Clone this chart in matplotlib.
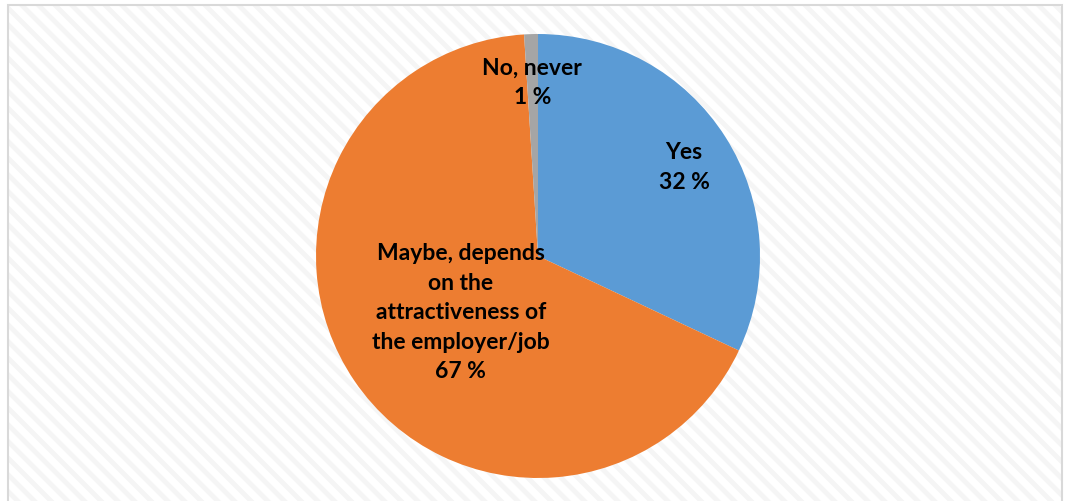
import numpy as np
import matplotlib
matplotlib.use("Agg")
import matplotlib.pyplot as plt
from matplotlib.patches import Rectangle

labels = ["Yes", "Maybe, depends\non the\nattractiveness of\nthe employer/job", "No, never"]
values = [32, 67, 1]
pct_text = ["32 %", "67 %", "1 %"]
colors = ["#5b9bd5", "#ed7d31", "#a5a5a5"]
label_dist = [0.78, 0.42, 0.80]

plt.rcParams['hatch.linewidth'] = 3.5
plt.rcParams['hatch.color'] = '#f5f5f5'
plt.rcParams['font.family'] = ['Lato', 'DejaVu Sans']

W, H = 1066, 501
fig = plt.figure(figsize=(W / 100, H / 100), dpi=100)
fig.patch.set_facecolor('white')

# background with diagonal texture
bg = Rectangle((8 / W, 0), (1062 - 8) / W, (501 - 5) / H, transform=fig.transFigure,
               facecolor='white', edgecolor='#f5f5f5', hatch='\\\\', linewidth=0, zorder=-10)
fig.patches.append(bg)
border = Rectangle((8 / W, -0.01), (1062 - 8) / W, (501 - 5) / H + 0.01, transform=fig.transFigure,
                   facecolor='none', edgecolor='#d9d9d9', linewidth=1.5, zorder=-9)
fig.patches.append(border)

cx, cy, R = 538, 256, 222
ax = fig.add_axes([(cx - R) / W, (H - cy - R) / H, 2 * R / W, 2 * R / H], zorder=5)
ax.patch.set_visible(False)
wedges, _ = ax.pie(values, colors=colors, startangle=90, counterclock=False,
                   wedgeprops=dict(linewidth=0), radius=1)
ax.set_xlim(-1, 1)
ax.set_ylim(-1, 1)
ax.set_aspect('equal')
ax.axis('off')

for w, lab, pt, d in zip(wedges, labels, pct_text, label_dist):
    ang = np.deg2rad((w.theta1 + w.theta2) / 2)
    ax.text(d * np.cos(ang), d * np.sin(ang) - 0.02, lab + "\n" + pt, ha='center', va='center',
            fontsize=16.5, fontweight='bold', color='black', linespacing=1.5)

fig.savefig("out.png", dpi=100)
